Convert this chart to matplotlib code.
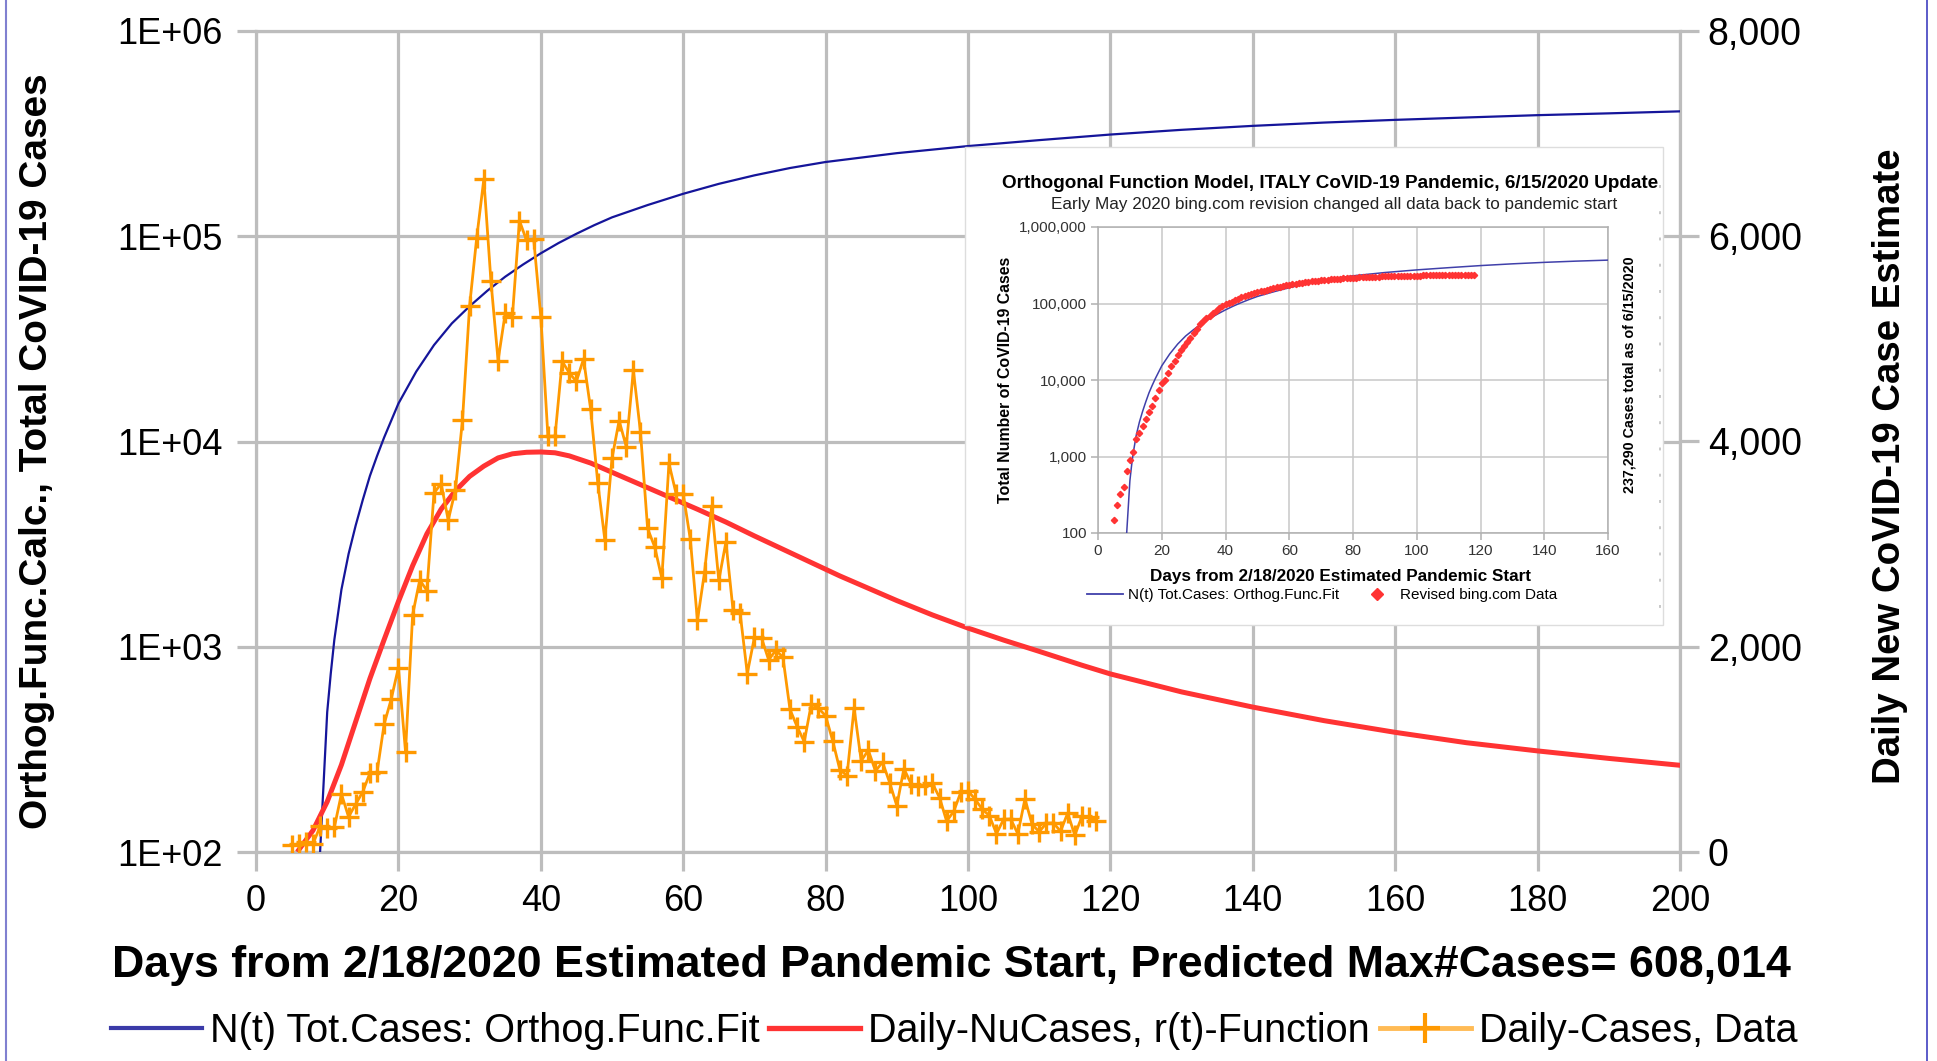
import matplotlib
matplotlib.use('Agg')
import matplotlib.pyplot as plt
import matplotlib.ticker as mticker
from matplotlib.patches import Rectangle
from matplotlib.lines import Line2D

plt.rcParams['font.family'] = ['Liberation Sans', 'DejaVu Sans']

# ---------------- data ----------------
daily_days = list(range(5, 119))
daily_cases = [71, 79, 93, 78, 250, 238, 240, 566, 342, 466, 587, 769, 778, 1247, 1492, 1797,
               977, 2313, 2651, 2547, 3497, 3590, 3233, 3526, 4207, 5322, 5986, 6557, 5560, 4789,
               5249, 5210, 6153, 5959, 5974, 5217, 4050, 4053, 4782, 4668, 4585, 4805, 4316, 3599,
               3039, 3836, 4204, 3951, 4694, 4092, 3153, 2972, 2667, 3786, 3493, 3491, 3047, 2256,
               2729, 3370, 2646, 3021, 2357, 2324, 1739, 2091, 2086, 1872, 1965, 1900, 1389, 1221,
               1075, 1444, 1401, 1327, 1083, 802, 744, 1402, 888, 992, 789, 875, 675, 451, 813, 665,
               642, 652, 669, 531, 300, 397, 584, 593, 516, 416, 355, 178, 318, 321, 177, 518, 270,
               197, 280, 283, 202, 379, 163, 346, 338, 301]

total_days = list(range(5, 119))
total_cases = [150, 229, 322, 400, 650, 888, 1128, 1694, 2036, 2502, 3089, 3858, 4636, 5883,
               7375, 9172, 10149, 12462, 15113, 17660, 21157, 24747, 27980, 31506, 35713, 41035,
               47021, 53578, 59138, 63927, 69176, 74386, 80539, 86498, 92472, 97689, 101739,
               105792, 110574, 115242, 119827, 124632, 128948, 132547, 135586, 139422, 143626,
               147577, 152271, 156363, 159516, 162488, 165155, 168941, 172434, 175925, 178972,
               181228, 183957, 187327, 189973, 192994, 195351, 197675, 199414, 201505, 203591,
               205463, 207428, 209328, 210717, 211938, 213013, 214457, 215858, 217185, 218268,
               219070, 219814, 221216, 222104, 223096, 223885, 224760, 225435, 225886, 226699,
               227364, 228006, 228658, 229327, 229858, 230158, 230555, 231139, 231732, 232248,
               232664, 233019, 233197, 233515, 233836, 234013, 234531, 234801, 234998, 235278,
               235561, 235763, 236142, 236305, 236651, 236989, 237290]

fit_days = [9, 9.5, 10, 10.5, 11, 12, 13, 14, 15, 16, 17, 18, 20, 22.5, 25, 27.5, 30, 32.5, 35,
            37.5, 40, 42.5, 45, 47.5, 50, 55, 60, 65, 70, 75, 80, 90, 100, 110, 120, 130, 140,
            150, 160, 170, 180, 190, 200]
fit_total = [100, 218, 480, 740, 1080, 1900, 2830, 3900, 5200, 6800, 8500, 10470, 15300, 21900,
             29500, 37600, 45600, 54300, 63500, 72800, 82600, 92700, 102800, 113200, 123600,
             141900, 161000, 180000, 198000, 215000, 230000, 254000, 275000, 294000, 313000,
             330000, 345000, 358000, 369000, 379000, 389000, 397000, 406000]

rt_days = [6, 8, 10, 12, 14, 16, 18, 20, 22, 24, 26, 28, 30, 32, 34, 36, 38, 40, 42, 44, 47,
           50, 53, 56, 59, 62, 66, 70, 74, 78, 82, 86, 90, 95, 100, 105, 110, 116, 120, 130,
           140, 150, 160, 170, 180, 190, 200]
rt_values = [20, 210, 490, 850, 1270, 1690, 2070, 2440, 2790, 3100, 3340, 3520, 3660, 3760,
             3840, 3880, 3895, 3898, 3890, 3860, 3790, 3700, 3610, 3520, 3430, 3340, 3215,
             3080, 2950, 2820, 2690, 2570, 2450, 2310, 2182, 2065, 1955, 1820, 1735, 1560,
             1412, 1280, 1166, 1065, 985, 912, 845]

x_ticks = [0, 20, 40, 60, 80, 100, 120, 140, 160, 180, 200]
left_ticks = [1e2, 1e3, 1e4, 1e5, 1e6]
left_labels = ["1E+02", "1E+03", "1E+04", "1E+05", "1E+06"]
right_ticks = [0, 2000, 4000, 6000, 8000]
right_labels = ["0", "2,000", "4,000", "6,000", "8,000"]
inset_xticks = [0, 20, 40, 60, 80, 100, 120, 140, 160]
inset_yticks = [1e2, 1e3, 1e4, 1e5, 1e6]
inset_ylabels = ["100", "1,000", "10,000", "100,000", "1,000,000"]

# ---------------- figure ----------------
W, H = 1937, 1061
fig = plt.figure(figsize=(W / 100, H / 100), dpi=100)


def fx(px):
    return px / W


def fy(py):
    return 1 - py / H


GRID = '#bdbdbd'
GLW = 2.3

ax = fig.add_axes([fx(256), fy(852), (1680 - 256) / W, (852 - 31) / H])
ax.set_yscale('log')
ax.set_xlim(0, 200)
ax.set_ylim(1e2, 1e6)
ax.xaxis.set_major_locator(mticker.FixedLocator(x_ticks))
ax.xaxis.set_major_formatter(mticker.FixedFormatter([str(v) for v in x_ticks]))
ax.yaxis.set_major_locator(mticker.FixedLocator(left_ticks))
ax.yaxis.set_major_formatter(mticker.FixedFormatter(left_labels))
ax.yaxis.set_minor_locator(mticker.NullLocator())
ax.grid(True, color=GRID, lw=GLW)
ax.set_axisbelow(True)
ax.tick_params(axis='both', which='major', length=14, width=GLW, color=GRID, labelsize=26)
ax.tick_params(axis='y', pad=10)
ax.tick_params(axis='x', pad=9)
for s in ax.spines.values():
    s.set_color(GRID)
    s.set_linewidth(GLW)

ax.plot(fit_days, fit_total, color='#15159a', lw=1.6, zorder=3)

ax2 = ax.twinx()
ax2.set_ylim(0, 8000)
ax2.yaxis.set_major_locator(mticker.FixedLocator(right_ticks))
ax2.yaxis.set_major_formatter(mticker.FixedFormatter(right_labels))
ax2.tick_params(axis='y', length=14, width=GLW, color=GRID, labelsize=27, pad=6)
for s in ax2.spines.values():
    s.set_visible(False)

ax2.plot(rt_days, rt_values, color='#ff3333', lw=3.6, solid_joinstyle='round', zorder=3)
ax2.plot(daily_days, daily_cases, color='#ff9900', lw=2.0, marker='+', ms=15, mew=2.4, zorder=4)

# axis titles
texts_fit = []
t1 = fig.text(fx(37), fy(451), "Orthog.Func.Calc., Total CoVID-19 Cases", rotation=90,
              ha='center', va='center', fontsize=27, fontweight='bold')
texts_fit.append((t1, 754, True))
t2 = fig.text(fx(1890), fy(466), "Daily New CoVID-19 Case Estimate", rotation=90,
              ha='center', va='center', fontsize=27, fontweight='bold')
texts_fit.append((t2, 636, True))
t3 = fig.text(fx(951), fy(965),
              "Days from 2/18/2020 Estimated Pandemic Start, Predicted Max#Cases= 608,014",
              ha='center', va='center', fontsize=27, fontweight='bold')
texts_fit.append((t3, 1680, False))

# main legend
h_blue = Line2D([], [], color='#3a3aa8', lw=3.0)
h_red = Line2D([], [], color='#ff3333', lw=3.8)
h_org = Line2D([], [], color='#ffbb55', lw=3.5, marker='+', ms=22, mew=3, mec='#ff9900')
leg = fig.legend([h_blue, h_red, h_org],
                 ["N(t) Tot.Cases: Orthog.Func.Fit", "Daily-NuCases, r(t)-Function",
                  "Daily-Cases, Data"],
                 loc='center', bbox_to_anchor=(fx(954), fy(1031)), ncol=3, frameon=False,
                 fontsize=28.5, handlelength=2.3, handletextpad=0.2, columnspacing=0.25,
                 borderpad=0, borderaxespad=0)

# ---------------- inset ----------------
box = Rectangle((fx(965), fy(625)), (1663 - 965) / W, (625 - 147) / H, transform=fig.transFigure,
                facecolor='white', edgecolor='#dddddd', lw=1.0, zorder=5)
fig.add_artist(box)
fig.add_artist(Line2D([fx(1660), fx(1660)], [fy(185), fy(618)], transform=fig.transFigure,
                      color='#c8c8c8', lw=1.4, ls=(0, (1.5, 12)), zorder=6))

axin = fig.add_axes([fx(1098), fy(533), (1608 - 1098) / W, (533 - 227) / H], zorder=6)
axin.set_yscale('log')
axin.set_xlim(0, 160)
axin.set_ylim(1e2, 1e6)
axin.xaxis.set_major_locator(mticker.FixedLocator(inset_xticks))
axin.xaxis.set_major_formatter(mticker.FixedFormatter([str(v) for v in inset_xticks]))
axin.yaxis.set_major_locator(mticker.FixedLocator(inset_yticks))
axin.yaxis.set_major_formatter(mticker.FixedFormatter(inset_ylabels))
axin.yaxis.set_minor_locator(mticker.NullLocator())
axin.grid(True, color='#c8c8c8', lw=1.1)
axin.set_axisbelow(True)
axin.tick_params(axis='both', which='major', length=5, width=1.1, color='#b0b0b0',
                 labelsize=11, labelcolor='#333333', pad=3)
for s in axin.spines.values():
    s.set_color('#b0b0b0')
    s.set_linewidth(1.1)
axin.plot(fit_days, fit_total, color='#4040aa', lw=1.1, zorder=3)
axin.plot(total_days, total_cases, ls='none', marker='D', ms=3.2, color='#ff3333', zorder=4)

ti = fig.text(fx(1330), fy(183), "Orthogonal Function Model, ITALY CoVID-19 Pandemic, 6/15/2020 Update",
              ha='center', va='center', fontsize=12, fontweight='bold', zorder=7)
texts_fit.append((ti, 654, False))
ts = fig.text(fx(1334), fy(205), "Early May 2020 bing.com revision changed all data back to pandemic start",
              ha='center', va='center', fontsize=11, color='#222222', zorder=7)
texts_fit.append((ts, 564, False))
tyl = fig.text(fx(1006), fy(380), "Total Number of CoVID-19 Cases", rotation=90,
               ha='center', va='center', fontsize=10, fontweight='bold', zorder=7)
texts_fit.append((tyl, 246, True))
tyr = fig.text(fx(1630), fy(375), "237,290 Cases total as of 6/15/2020", rotation=90,
               ha='center', va='center', fontsize=10, fontweight='bold', zorder=7)
texts_fit.append((tyr, 235, True))
txl = fig.text(fx(1340), fy(577), "Days from 2/18/2020 Estimated Pandemic Start",
               ha='center', va='center', fontsize=11, fontweight='bold', zorder=7)
texts_fit.append((txl, 381, False))

leg2 = fig.legend([Line2D([], [], color='#4040aa', lw=1.3),
                   Line2D([], [], ls='none', marker='D', ms=6, color='#ff3333')],
                  ["N(t) Tot.Cases: Orthog.Func.Fit", "Revised bing.com Data"],
                  loc='center', bbox_to_anchor=(fx(1322), fy(595)), ncol=2, frameon=False,
                  fontsize=11, handlelength=2.4, handletextpad=0.3, columnspacing=1.3,
                  borderpad=0, borderaxespad=0)
leg2.set_zorder(8)

# figure frame lines
fig.add_artist(Line2D([fx(6), fx(6)], [0, 1], transform=fig.transFigure, color='#8080d0', lw=1.5))
fig.add_artist(Line2D([fx(1927), fx(1927)], [0, 1], transform=fig.transFigure, color='#4040c0', lw=1.2))

# fit text sizes to measured extents
fig.canvas.draw()
r = fig.canvas.get_renderer()
for t, target, rot in texts_fit:
    bb = t.get_window_extent(r)
    cur = bb.height if rot else bb.width
    t.set_fontsize(t.get_fontsize() * target / cur)

fig.savefig('out.png', dpi=100, facecolor='white')
